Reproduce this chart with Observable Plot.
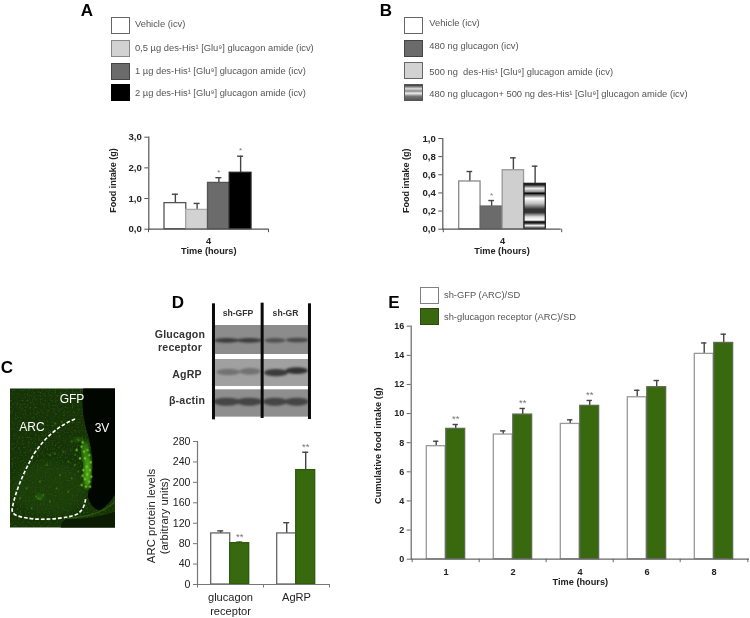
<!DOCTYPE html>
<html><head><meta charset="utf-8">
<script src="https://cdn.jsdelivr.net/npm/d3@7"></script>
<script src="https://cdn.jsdelivr.net/npm/@observablehq/plot@0.6"></script>
<style>
html,body{margin:0;padding:0;background:#fff}
#page{position:relative;width:750px;height:618px;overflow:hidden;font-family:"Liberation Sans",Arial,sans-serif;filter:blur(0.42px);will-change:filter}
#page>svg,#page>div{position:absolute}
.letter{font-weight:bold;font-size:17px;color:#000;line-height:1;transform:translate(-50%,-50%)}
.sw{box-sizing:border-box;width:19px;height:17px;border:1.5px solid #666}
.lt{font-size:9.35px;color:#555;white-space:pre;transform:translateY(-50%);line-height:1}
</style></head><body><div id="page"></div>
<script>
// Panel A
const aTime = ["4"];
const aNames = ["Vehicle (icv)","0,5 µg des-His¹ [Glu⁹] glucagon amide (icv)","1 µg des-His¹ [Glu⁹] glucagon amide (icv)","2 µg des-His¹ [Glu⁹] glucagon amide (icv)"];
const aValues = [[0.85],[0.63],[1.51],[1.84]];
const aErrTop = [[1.14],[0.84],[1.68],[2.38]];
const aStars = [[""],[""],["*"],["*"]];
// Panel B
const bTime = ["4"];
const bNames = ["Vehicle (icv)","480 ng glucagon (icv)","500 ng  des-His¹ [Glu⁹] glucagon amide (icv)","480 ng glucagon+ 500 ng des-His¹ [Glu⁹] glucagon amide (icv)"];
const bValues = [[0.526],[0.25],[0.65],[0.50]];
const bErrTop = [[0.636],[0.316],[0.787],[0.695]];
const bStars = [[""],["*"],[""],[""]];
// Panel D
const dCats = ["glucagon receptor","AgRP"];
const dControl = [100,100];
const dControlErr = [105,121];
const dTreated = [81,224];
const dTreatedErr = [83,259];
const dStars = ["**","**"];
// Panel E
const eTimes = ["1","2","4","6","8"];
const eNames = ["sh-GFP (ARC)/SD","sh-glucagon receptor (ARC)/SD"];
const eGfp = [7.76,8.56,9.29,11.12,14.1];
const eGfpErr = [8.1,8.81,9.57,11.6,14.85];
const eGr = [8.95,9.93,10.53,11.81,14.85];
const eGrErr = [9.25,10.35,10.9,12.27,15.45];
const eStars = ["**","**","**","",""];
// Styles
const GREEN="#38690f", font='"Liberation Sans",Arial,sans-serif';
const page=document.getElementById("page");
const at=(el,l,t)=>{el.style.left=l+"px";el.style.top=t+"px";page.appendChild(el);return el};
const stripeStops=[[0,"#000"],[.04,"#333"],[.11,"#eee"],[.18,"#999"],[.22,"#000"],[.25,"#555"],[.33,"#fff"],[.45,"#bbb"],[.57,"#333"],[.64,"#333"],[.74,"#ddd"],[.81,"#fff"],[.85,"#000"],[.88,"#333"],[.93,"#eee"],[1,"#222"]];

function chart(o){
  const [ml,mr,mt,mb]=o.m, plotW=o.w-ml-mr, plotH=o.h-mt-mb, bw=plotW/o.cats.length, yMax=o.yDomain[1];
  const tickLen=yMax*3.5/plotH;
  const marks=[
    ()=>{const g=document.createElementNS("http://www.w3.org/2000/svg","defs");
      g.innerHTML='<linearGradient id="stripes" x1="0" y1="0" x2="0" y2="1">'+stripeStops.map(s=>`<stop offset="${s[0]}" stop-color="${s[1]}"/>`).join("")+'</linearGradient>';return g}
  ];
  o.series.forEach((s,i)=>{
    const rows=o.cats.map((c,j)=>({cat:c,value:s.values[j],err:s.err[j],star:s.stars?s.stars[j]:""}));
    const il=o.start+i*o.barW, ir=bw-o.start-(i+1)*o.barW, dx=o.start+(i+.5)*o.barW-bw/2;
    marks.push(Plot.ruleX(rows,{x:"cat",y1:"value",y2:"err",dx,stroke:o.errColor,strokeWidth:1.4}));
    marks.push(Plot.tickY(rows,{x:"cat",y:"err",insetLeft:il+o.barW/2-3,insetRight:ir+o.barW/2-3,stroke:o.errColor,strokeWidth:1.4}));
    marks.push(Plot.barY(rows,{x:"cat",y:"value",insetLeft:il,insetRight:ir,fill:s.fill,stroke:s.stroke,strokeWidth:s.sw||1.3}));
    marks.push(Plot.text(rows.filter(d=>d.star),{x:"cat",y:"err",text:"star",dx,dy:-5.5,fill:"#777",fontSize:o.starSize,fontWeight:"normal",style:"-webkit-text-stroke:0"}));
  });
  marks.push(
    Plot.ruleX(o.cats,{x:d=>d,y1:0,y2:-tickLen,dx:-bw/2,stroke:o.axisColor}),
    Plot.ruleX(o.cats.slice(-1),{x:d=>d,y1:0,y2:-tickLen,dx:bw/2,stroke:o.axisColor}),
    Plot.ruleY([0],{stroke:o.axisColor,strokeWidth:1.2}),
    Plot.axisY({ticks:o.yTicks,tickFormat:o.yFormat,tickSize:4,stroke:o.axisColor,fill:o.textColor,label:null,tickPadding:3}),
    Plot.frame({anchor:"left",stroke:o.axisColor,strokeWidth:1.2}),
    Plot.axisX({tickSize:0,tickPadding:o.xPad,fill:o.textColor,label:null,lineHeight:1.2,fontSize:o.xSize,tickFormat:o.xFormat||(d=>d)}),
    Plot.text([o.yLabel],{frameAnchor:"left",textAnchor:"middle",lineAnchor:"middle",rotate:-90,dx:-o.yDx,dy:o.yDy,fill:o.textColor,fontSize:o.ySize,fontWeight:o.labelWeight||"bold",lineHeight:1.2})
  );
  if(o.xLabel) marks.push(Plot.text([o.xLabel],{frameAnchor:"bottom",textAnchor:"middle",lineAnchor:"middle",dy:o.xDy,fill:o.textColor,fontSize:9.2,fontWeight:"bold"}));
  const svg=Plot.plot({width:o.w,height:o.h,marginLeft:ml,marginRight:mr,marginTop:mt,marginBottom:mb,
    style:{fontFamily:font,fontSize:o.fs+"px",fontWeight:o.fw,background:"transparent",overflow:"visible",webkitTextStroke:o.textStroke||"0"},
    x:{type:"band",domain:o.cats,padding:0,axis:null},y:{domain:o.yDomain,axis:null},marks});
  at(svg,o.l,o.t);
}
const legend=(names,styles,ys,tys,sx,tx)=>names.forEach((n,i)=>{
  const s=document.createElement("div");s.className="sw";Object.assign(s.style,styles[i]);at(s,sx,ys[i]);
  const t=document.createElement("div");t.className="lt";t.textContent=n;at(t,tx,tys[i]);
});
const letter=(c,x,y)=>{const d=document.createElement("div");d.className="letter";d.textContent=c;at(d,x,y)};

// A
letter("A",87,10);
legend(aNames,[{background:"#fff",borderColor:"#666"},{background:"#d2d2d2",borderColor:"#888"},{background:"#6b6b6b",borderColor:"#444"},{background:"#000",borderColor:"#000"}],[17,40,63,84],[25,49,72,94],110.5,135);
chart({l:60,t:130,w:210,h:130,m:[88.3,1.7,6.7,31.3],cats:aTime,start:16,barW:21.75,yDomain:[0,3],yTicks:[0,1,2,3],yFormat:d=>d.toFixed(1).replace(".",","),
  series:[0,1,2,3].map(i=>({values:aValues[i],err:aErrTop[i],stars:aStars[i],...[{fill:"#fff",stroke:"#555"},{fill:"#d2d2d2",stroke:"#aaa"},{fill:"#6b6b6b",stroke:"#555"},{fill:"#000",stroke:"#222"}][i]})),
  errColor:"#444",axisColor:"#555",textColor:"#222",fs:9.6,fw:"bold",starSize:8,xPad:7,xSize:9.2,yLabel:"Food intake (g)",yDx:36.6,yDy:-2.7,ySize:9,xLabel:"Time (hours)",xDy:22});
// B
letter("B",386,10);
legend(bNames,[{background:"#fff",borderColor:"#666"},{background:"#6b6b6b",borderColor:"#444"},{background:"#d2d2d2",borderColor:"#666"},{background:"linear-gradient(#333,#ddd 25%,#888 40%,#eee 55%,#777 75%,#555)",borderColor:"#555"}],[17,39.5,62,84],[24,47,73,95],404,429.3);
chart({l:370,t:130,w:195,h:130,m:[72.3,4.3,8,31.3],cats:bTime,start:15.7,barW:21.75,yDomain:[0,1],yTicks:[0,.2,.4,.6,.8,1],yFormat:d=>d.toFixed(1).replace(".",","),
  series:[0,1,2,3].map(i=>({values:bValues[i],err:bErrTop[i],stars:bStars[i],...[{fill:"#fff",stroke:"#888"},{fill:"#6b6b6b",stroke:"#666"},{fill:"#cfcfcf",stroke:"#999"},{fill:"url(#stripes)",stroke:"#222"}][i]})),
  errColor:"#444",axisColor:"#555",textColor:"#222",fs:9.6,fw:"bold",starSize:8,xPad:7,xSize:9.2,yLabel:"Food intake (g)",yDx:37,yDy:-3,ySize:9,xLabel:"Time (hours)",xDy:22});
// D
letter("D",178,302);
chart({l:140,t:430,w:200,h:188,m:[57,11,11,34],cats:dCats,start:13.7,barW:19,yDomain:[0,280],yTicks:d3.range(0,281,40),yFormat:d=>d,
  series:[{values:dControl,err:dControlErr,fill:"#fff",stroke:"#666"},{values:dTreated,err:dTreatedErr,stars:dStars,fill:GREEN,stroke:"#2f5a0c"}],
  errColor:"#444",axisColor:"#777",textColor:"#222",fs:10.6,fw:"normal",textStroke:".2px",starSize:9.5,xPad:7.5,xSize:11.1,xFormat:d=>d.replace(" ","\n"),yLabel:"ARC protein levels\n(arbitrary units)",labelWeight:"normal",yDx:40.5,yDy:3,ySize:11.4});
// E
letter("E",394,302);
legend(eNames,[{background:"#fff",borderColor:"#808080"},{background:GREEN,borderColor:"#2f4a14"}],[287,308],[296,318],419.5,444);
chart({l:360,t:320,w:390,h:279,m:[50.7,1,5.7,40.3],cats:eTimes,start:14.3,barW:19.5,yDomain:[0,16],yTicks:d3.range(0,17,2),yFormat:d=>d,
  series:[{values:eGfp,err:eGfpErr,fill:"#fff",stroke:"#999"},{values:eGr,err:eGrErr,stars:eStars,fill:GREEN,stroke:"#5c6b50"}],
  errColor:"#444",axisColor:"#666",textColor:"#222",fs:9,fw:"bold",starSize:9.5,xPad:8,xSize:9.2,yLabel:"Cumulative food intake (g)",yDx:33.7,yDy:3,ySize:9.3,xLabel:"Time (hours)",xDy:23});

// Photographs (panel C micrograph, panel D blots) are images in the original, not data.
const dimSpecks=[[165,205],[185,200],[215,260],[235,255],[190,290],[150,300],[165,295],[140,330],[205,320],[225,300],[115,430],[130,420],[95,460],[150,440],[60,430],[180,360],[215,370],[235,350],[120,380],[80,400],[205,410],[170,400],[100,490],[225,330],[120,432],[108,425]];
const edgeSpecks=[[248,262],[245,390],[262,285],[268,300],[255,310],[272,322],[260,335],[250,345],[270,345],[262,358],[274,365],[255,372],[268,380],[248,362],[258,395],[270,395],[240,310],[252,290],[245,275],[230,285]];
const holder=document.createElement("div");holder.style.cssText="left:0;top:0;width:750px;height:618px;pointer-events:none";
holder.innerHTML=`<svg width="750" height="618" style="position:absolute;left:0;top:0;font-family:${font.replace(/"/g,"'")}">
<defs>
<filter id="noise" x="0" y="0" width="100%" height="100%"><feTurbulence type="fractalNoise" baseFrequency="0.2" numOctaves="1" seed="4"/><feColorMatrix values="0 0 0 0 0.12  0 0 0 0 0.30  0 0 0 0 0.04  0 0 0 1 -0.5"/></filter>
<filter id="b1"><feGaussianBlur stdDeviation="6"/></filter><filter id="b2"><feGaussianBlur stdDeviation="14"/></filter><filter id="b3"><feGaussianBlur stdDeviation="3.6"/></filter><filter id="b4"><feGaussianBlur stdDeviation="1.6"/></filter>
<clipPath id="cp"><rect x="30" y="100" width="315" height="418"/></clipPath>
</defs>
<g transform="translate(0,355) scale(.3333)" clip-path="url(#cp)">
<rect x="30" y="100" width="315" height="418" fill="#153306"/>
<rect x="30" y="100" width="315" height="418" filter="url(#noise)"/>
<ellipse cx="150" cy="400" rx="110" ry="80" fill="#214c0b" opacity=".5" filter="url(#b2)"/>
<path d="M250 100H345V420Q320 455 300 466Q275 462 263 425Q268 390 278 340Q278 280 258 220Q242 160 250 100Z" fill="#020600"/>
<path d="M345 470Q270 495 200 492Q185 496 182 518H345Z" fill="#0b1c03"/>
<path d="M345 440Q300 485 200 490" fill="none" stroke="#2d6a12" stroke-width="4" opacity=".7"/>
<ellipse cx="262" cy="350" rx="10" ry="50" fill="#5cc41f" opacity=".9" filter="url(#b1)"/>
<ellipse cx="256" cy="290" rx="10" ry="32" fill="#3f9e15" opacity=".8" filter="url(#b1)"/>
<ellipse cx="235" cy="255" rx="16" ry="5" fill="#429a16" opacity=".6" filter="url(#b1)"/>
<ellipse cx="120" cy="425" rx="12" ry="7" fill="#367f14" opacity=".6" filter="url(#b1)"/>
<g filter="url(#b4)">${dimSpecks.map(s=>`<circle cx="${s[0]}" cy="${s[1]}" r="3" fill="#4c9c1a" opacity=".6"/>`).join("")}${edgeSpecks.map(s=>`<circle cx="${s[0]}" cy="${s[1]}" r="3.6" fill="#74d926" opacity=".85"/>`).join("")}</g>
<path d="M225 192C180 210 135 245 100 300C70 355 45 410 36 465C38 480 50 485 100 492C150 495 210 488 230 478C248 468 255 450 257 430" fill="none" stroke="#fff" stroke-width="5" stroke-dasharray="11 6"/>
</g>
<text x="72" y="399" dy=".35em" text-anchor="middle" fill="#fff" font-size="12">GFP</text>
<text x="32" y="427" dy=".35em" text-anchor="middle" fill="#fff" font-size="12">ARC</text>
<text x="102" y="428" dy=".35em" text-anchor="middle" fill="#fff" font-size="12">3V</text>
<text x="7" y="367" dy=".36em" text-anchor="middle" fill="#000" font-size="17" font-weight="bold">C</text>
<g transform="translate(0,280) scale(.3333)">
<rect x="643" y="135" width="287" height="87" fill="#8c8c8c"/>
<rect x="643" y="237" width="290" height="81" fill="#a0a0a0"/>
<rect x="643" y="328" width="287" height="82" fill="#8e8e8e"/>
<g filter="url(#b3)">
<ellipse cx="680" cy="181" rx="38" ry="7" fill="#3a3a3a"/><ellipse cx="748" cy="181" rx="38" ry="7" fill="#3a3a3a"/>
<ellipse cx="825" cy="181" rx="32" ry="7" fill="#505050"/><ellipse cx="892" cy="180" rx="34" ry="7" fill="#4a4a4a"/>
<ellipse cx="685" cy="276" rx="36" ry="10" fill="#727272"/><ellipse cx="750" cy="274" rx="32" ry="10" fill="#727272"/>
<ellipse cx="828" cy="278" rx="36" ry="11" fill="#3a3a3a"/><ellipse cx="890" cy="272" rx="34" ry="10" fill="#333"/>
<ellipse cx="680" cy="365" rx="40" ry="12" fill="#444"/><ellipse cx="748" cy="365" rx="38" ry="12" fill="#444"/>
<ellipse cx="825" cy="365" rx="36" ry="12" fill="#444"/><ellipse cx="890" cy="365" rx="36" ry="12" fill="#444"/>
</g>
<rect x="636" y="70" width="9" height="348" fill="#0a0a0a"/><rect x="782" y="68" width="9" height="346" fill="#0a0a0a"/><rect x="924" y="70" width="9" height="347" fill="#0a0a0a"/>
</g>
<g fill="#333" font-weight="bold">
<text x="238" y="313" dy=".35em" text-anchor="middle" font-size="8.6">sh-GFP</text>
<text x="285.5" y="313" dy=".35em" text-anchor="middle" font-size="8.6">sh-GR</text>
<g font-size="10.6" text-anchor="middle" letter-spacing=".2">
<text x="180" y="334" dy=".35em">Glucagon</text><text x="180" y="347" dy=".35em">receptor</text>
<text x="187" y="374" dy=".35em">AgRP</text><text x="187" y="400" dy=".35em">β-actin</text></g></g>
</svg>`;
at(holder,0,0);
</script></body></html>
